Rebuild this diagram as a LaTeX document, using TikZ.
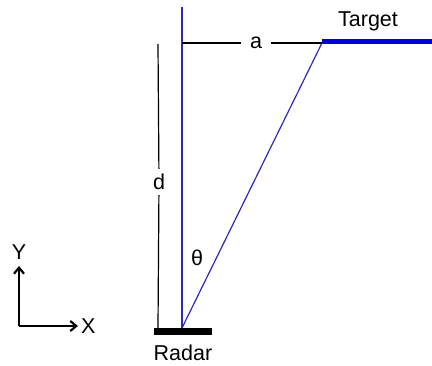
\documentclass[tikz,border=0pt]{standalone}
\usepackage{fontspec}
\setmainfont{Liberation Sans}
\usetikzlibrary{arrows.meta, positioning, calc}
\definecolor{beamblue}{HTML}{2A2ABF}
\definecolor{barblue}{HTML}{0000D8}
\begin{document}
\begin{tikzpicture}[
  x=1pt, y=-1pt,
  >={Straight Barb[length=6pt, width=10pt]},
  thin line/.style={line width=1.2pt},
  lbl/.style={font=\fontsize{21.5}{25}\selectfont, inner sep=0pt},
]

% =============================================
% Canvas
% =============================================
\useasboundingbox (0,0) rectangle (432,366);

\tikzset{
  gaplabel/.style={lbl, fill=white, inner xsep=9pt, inner ysep=4pt},
}

% =============================================
% Fixed points
% =============================================
\coordinate (radar) at (182,328);
\coordinate (zenith) at (182,7);
\coordinate (tgt) at (322,43);
\coordinate (tgtend) at (432,43);
\coordinate (dtop) at (158,44);
\coordinate (dbot) at (158,328);

% =============================================
% Radar and target
% =============================================
\draw[line width=7pt] (154,332) -- (212,332);
\node[lbl] (radarlbl) at (183,353) {Radar};

\draw[barblue, line width=5pt] (tgt) ++(0,-1) -- ($(tgtend)+(0,-1)$);
\node[lbl] (tgtlbl) at (368,21) {Target};

% =============================================
% Beam lines
% =============================================
\draw[beamblue, thin line] (radar) -- (zenith);
\draw[beamblue, thin line] (radar) -- (tgt);
\node[lbl] (theta) at (197,258) {θ};

% =============================================
% Distances a and d
% =============================================
\node[gaplabel] (alab) at (256,43) {a};
\draw[thin line] (zenith |- tgt) -- (alab) -- (tgt);

\node[gaplabel, inner xsep=2pt, inner ysep=5pt] (dlab) at (159,182) {d};
\draw[thin line] (dtop) -- (dlab) -- (dbot);

% =============================================
% Axes
% =============================================
\coordinate (orig) at (19,326);
\draw[->, line width=2.2pt] (orig) -- ++(0,-60) node[lbl, above=5pt] (ylbl) {Y};
\draw[->, line width=2.2pt] (orig) -- ++(59,0) node[lbl, right=2pt] (xlbl) {X};

\end{tikzpicture}
\end{document}
